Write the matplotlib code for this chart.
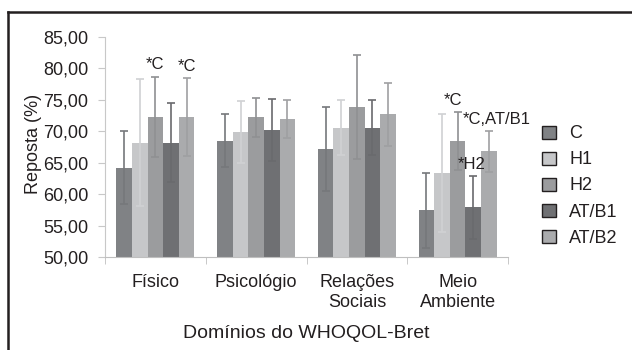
import numpy as np
import matplotlib
matplotlib.use("Agg")
import matplotlib.pyplot as plt
from matplotlib.lines import Line2D

plt.rcParams['font.family'] = ['Liberation Sans', 'DejaVu Sans']

# Data
dominios = ["Físico", "Psicológio", "Relações\nSociais", "Meio\nAmbiente"]
grupos = ["C", "H1", "H2", "AT/B1", "AT/B2"]
medias = {
    "C":     [64.2, 68.5, 67.2, 57.4],
    "H1":    [68.2, 69.9, 70.6, 63.4],
    "H2":    [72.3, 72.2, 73.9, 68.5],
    "AT/B1": [68.2, 70.2, 70.6, 57.9],
    "AT/B2": [72.2, 71.9, 72.7, 66.8],
}
desvios = {
    "C":     [5.8, 4.2, 6.7, 5.9],
    "H1":    [10.1, 4.9, 4.3, 9.4],
    "H2":    [6.4, 3.1, 8.3, 4.6],
    "AT/B1": [6.3, 4.9, 4.3, 5.0],
    "AT/B2": [6.2, 3.0, 5.0, 3.2],
}
cores = {
    "C": "#808285",
    "H1": "#c6c7c9",
    "H2": "#9b9c9e",
    "AT/B1": "#6f7073",
    "AT/B2": "#aaabad",
}
cores_erro = {
    "C": "#76787b",
    "H1": "#d0d1d3",
    "H2": "#8f9092",
    "AT/B1": "#696a6d",
    "AT/B2": "#9fa0a2",
}
# significance marks: (domain index, group, text, x offset in points)
marcas = [
    (0, "H2", "*C", 0),
    (0, "AT/B2", "*C", 0),
    (3, "H2", "*C", -3),
    (3, "AT/B2", "*C,AT/B1", 6),
    (3, "AT/B1", "*H2", -1),
]

fig = plt.figure(figsize=(6.32, 3.5), dpi=100)
ax = fig.add_axes([105 / 632, 1 - 257 / 350, (508 - 105) / 632, 220 / 350])

x = np.arange(len(dominios))
largura = 0.155
for i, g in enumerate(grupos):
    pos = x + (i - 2) * largura
    ax.bar(pos, medias[g], largura, bottom=0, color=cores[g], label=g,
           edgecolor="none", zorder=2)
    ax.errorbar(pos, medias[g], yerr=desvios[g], fmt="none",
                ecolor=cores_erro[g], elinewidth=1.2, capsize=3,
                capthick=1.2, zorder=3)

for d, g, txt, dx in marcas:
    i = grupos.index(g)
    xp = x[d] + (i - 2) * largura
    yp = medias[g][d] + desvios[g][d]
    ax.annotate(txt, (xp, yp), xytext=(dx, 3), textcoords="offset points",
                ha="center", va="bottom", fontsize=12, color="#231f20")

ax.set_ylim(50, 85)
ax.set_xlim(-0.5, 3.5)
ax.set_yticks(np.arange(50, 86, 5))
ax.set_yticklabels([f"{v:.2f}".replace(".", ",") for v in np.arange(50, 86, 5)])
ax.set_xticks(x)
ax.set_xticklabels(dominios, linespacing=1.25)
ax.set_xticks(np.arange(-0.5, 3.6, 1), minor=True)
ax.tick_params(axis="x", which="major", length=0, pad=12, labelsize=13,
               colors="#231f20")
ax.tick_params(axis="x", which="minor", length=5, color="#bfbfbf")
ax.tick_params(axis="y", length=5, color="#c8c8c8", pad=7, labelsize=13,
               labelcolor="#231f20")
for s in ["top", "right"]:
    ax.spines[s].set_visible(False)
ax.spines["left"].set_color("#c8c8c8")
ax.spines["bottom"].set_color("#bfbfbf")

fig.text(33 / 632, 1 - 144 / 350, "Reposta (%)", rotation=90, ha="center",
         va="center", fontsize=13, color="#231f20")
fig.text(306 / 632, 1 - 334 / 350, "Domínios do WHOQOL-Bret", ha="center",
         va="center", fontsize=14, color="#231f20")

leg = fig.legend(loc="center left", bbox_to_anchor=(542 / 632, 1 - 186 / 350),
                 frameon=False, fontsize=13, handlelength=0.75,
                 handleheight=0.75, handletextpad=0.75, labelspacing=0.5,
                 borderpad=0, borderaxespad=0)
for h in leg.legend_handles:
    h.set_edgecolor("#231f20")
    h.set_linewidth(1.0)
for t in leg.get_texts():
    t.set_color("#231f20")

# frame lines (top and left) around the figure
fig.add_artist(Line2D([8 / 632, 1], [1 - 12 / 350, 1 - 12 / 350],
                      color="#231f20", lw=1.8, transform=fig.transFigure))
fig.add_artist(Line2D([8 / 632, 8 / 632], [0, 1 - 12 / 350],
                      color="#231f20", lw=1.8, transform=fig.transFigure))

fig.savefig("out.png", dpi=100)
